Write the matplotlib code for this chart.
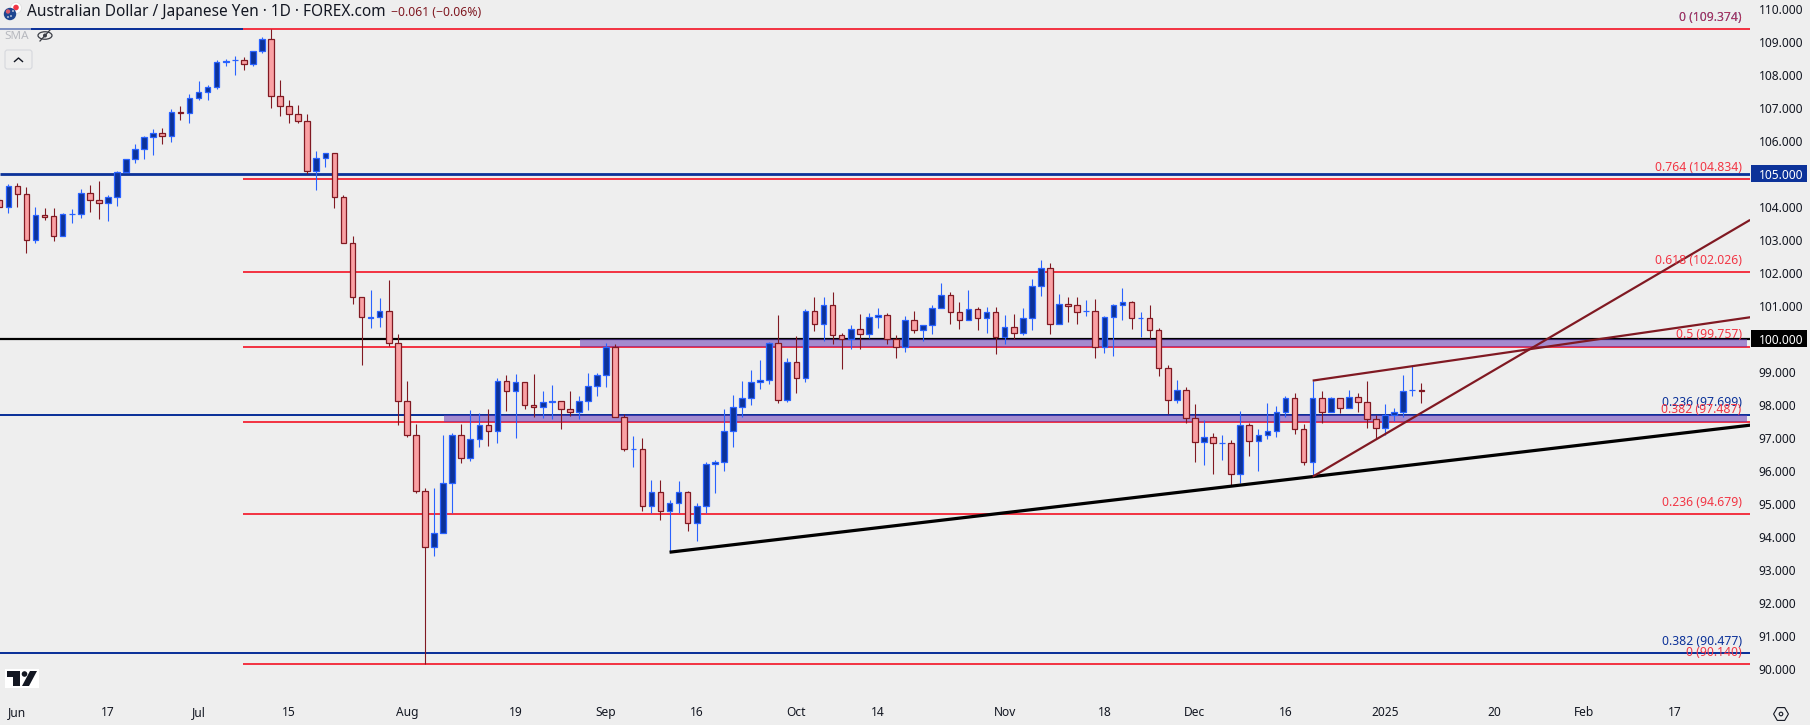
import matplotlib
matplotlib.use("Agg")
import matplotlib.pyplot as plt
from matplotlib.patches import Rectangle, Circle, Polygon, FancyBboxPatch, RegularPolygon, Ellipse
from matplotlib.lines import Line2D

# ---------- data ----------
opens = [104.19,103.98,104.62,104.37,102.98,103.74,103.71,103.10,103.77,103.77,104.40,104.19,104.10,104.28,105.04,105.46,105.74,106.10,106.22,106.13,
 106.86,106.83,107.28,107.49,107.62,108.37,108.45,108.46,108.31,108.71,109.07,107.34,107.04,106.80,106.59,105.07,105.49,105.62,104.28,102.89,
 101.25,100.64,100.65,100.83,99.86,98.10,97.07,95.37,93.68,94.10,95.62,97.07,96.37,96.95,97.37,97.19,98.71,98.43,98.68,97.98,
 97.92,98.09,98.10,97.86,97.77,98.10,98.56,98.89,99.74,97.62,96.65,96.67,94.92,95.34,94.77,95.01,95.34,94.40,94.92,96.19,
 96.26,97.19,97.92,98.19,98.68,98.74,99.86,98.13,99.28,98.80,100.83,100.46,101.01,100.10,99.98,100.28,100.13,100.65,100.71,100.00,
 99.74,100.56,100.25,100.43,100.92,101.31,100.80,100.56,100.89,100.62,100.80,100.04,100.34,100.16,100.62,101.59,102.13,100.46,101.04,101.01,
 100.83,100.83,99.74,100.65,101.01,101.10,100.62,100.62,100.25,99.10,98.13,98.46,97.59,96.86,97.01,96.83,96.83,95.89,97.37,96.89,
 97.07,97.19,97.77,98.19,97.25,96.25,98.19,97.77,98.19,97.89,98.24,98.07,97.56,97.28,97.70,97.77,98.45,98.46]
highs = [104.25,104.68,104.72,104.60,103.98,103.95,103.95,103.80,103.92,104.53,104.66,104.77,104.34,105.08,105.45,105.90,106.14,106.34,106.38,106.96,
 107.04,107.43,107.81,107.69,108.46,108.48,108.57,108.54,108.71,109.13,109.374,107.84,107.23,107.07,106.80,105.68,105.62,105.62,104.34,103.10,
 101.25,101.47,101.23,101.78,100.13,98.72,97.43,95.49,95.49,97.07,97.13,97.43,97.84,97.74,97.87,98.81,98.89,98.92,98.68,98.92,
 98.41,98.59,98.10,98.41,98.26,98.96,98.96,99.86,99.83,97.71,97.04,96.98,95.72,95.72,95.10,95.69,95.37,95.01,96.26,96.31,
 97.87,98.29,98.72,99.04,99.35,99.90,100.71,99.43,100.07,100.89,101.26,101.26,101.40,100.16,100.40,100.74,100.77,100.92,100.77,100.10,
 100.68,100.83,100.43,101.01,101.68,101.40,101.10,101.49,100.95,100.95,100.95,100.71,100.74,100.92,101.80,102.37,102.28,101.34,101.25,101.25,
 101.16,101.19,100.68,101.04,101.53,101.13,100.80,101.01,100.31,99.19,98.74,98.53,98.01,97.53,97.13,97.07,96.92,97.80,97.46,97.25,
 98.04,97.95,98.25,98.34,97.40,98.73,98.40,98.22,98.19,98.44,98.34,98.71,97.69,98.01,97.89,98.89,99.18,98.65]
lows = [103.98,103.82,104.00,102.61,102.91,103.60,102.97,103.10,103.52,103.67,103.84,103.64,103.58,104.02,105.04,105.33,105.45,105.58,105.90,105.96,
 106.63,106.55,107.23,107.23,107.57,108.27,108.00,108.15,108.27,108.67,107.00,106.76,106.55,106.55,104.98,104.52,105.21,103.97,102.89,101.06,
 99.21,100.32,100.36,99.79,97.39,97.03,95.33,90.14,93.42,94.10,94.71,96.24,96.30,96.73,96.76,96.85,97.82,97.00,97.88,97.64,
 97.61,97.58,97.27,97.66,97.58,97.84,98.26,98.54,97.62,96.61,96.12,94.79,94.71,94.52,93.58,94.71,94.18,93.88,94.71,95.33,
 96.00,96.73,97.64,97.99,98.48,98.64,98.04,98.09,98.36,98.70,100.24,99.92,99.85,99.09,99.70,99.70,100.01,100.33,99.85,99.42,
 99.61,100.18,99.94,100.15,100.92,100.45,100.30,100.56,100.27,100.18,99.55,99.85,99.98,100.12,100.27,101.30,100.15,100.46,100.52,100.45,
 100.70,99.42,99.58,99.48,100.58,100.30,100.06,99.98,98.88,97.71,98.06,97.46,96.27,96.18,95.91,96.33,95.56,95.62,96.45,96.00,
 96.97,97.03,97.62,97.12,96.18,95.82,97.45,97.77,97.76,97.89,97.79,97.30,96.95,97.07,97.52,97.62,98.27,98.06]
closes = [103.98,104.62,104.37,102.98,103.74,103.70,103.10,103.77,103.78,104.40,104.19,104.10,104.28,105.04,105.45,105.74,106.10,106.22,106.13,106.86,
 106.83,107.28,107.49,107.62,108.37,108.43,108.46,108.31,108.71,109.07,107.34,107.04,106.80,106.59,105.07,105.49,105.62,104.28,102.89,101.25,
 100.65,100.65,100.83,99.86,98.10,97.07,95.37,93.68,94.10,95.62,97.07,96.37,96.95,97.37,97.19,98.71,98.43,98.68,97.98,97.92,
 98.07,98.10,97.86,97.77,98.10,98.56,98.89,99.74,97.62,96.65,96.67,94.92,95.34,94.77,95.01,95.34,94.40,94.92,96.19,96.26,
 97.19,97.92,98.19,98.68,98.74,99.86,98.13,99.28,98.80,100.83,100.46,101.01,100.10,99.98,100.28,100.13,100.65,100.71,100.00,99.74,
 100.56,100.25,100.43,100.92,101.31,100.80,100.56,100.89,100.62,100.80,100.04,100.34,100.16,100.62,101.59,102.13,100.46,101.04,101.00,100.80,
 100.84,99.74,100.65,101.01,101.10,100.62,100.63,100.25,99.10,98.13,98.46,97.59,96.86,97.01,96.83,96.84,95.89,97.37,96.89,97.07,
 97.19,97.77,98.19,97.25,96.25,98.19,97.77,98.19,97.89,98.24,98.07,97.56,97.28,97.70,97.77,98.43,98.46,98.40]

red_levels = [109.374, 104.834, 102.026, 99.757, 97.487, 94.679, 90.140]
red_texts = ["0 (109.374)", "0.764 (104.834)", "0.618 (102.026)", "0.5 (99.757)", "0.382 (97.487)", "0.236 (94.679)", "0 (90.140)"]
blue_levels = [109.374, 105.0, 97.699, 90.477]
blue_texts = ["0 (109.374)", "", "0.236 (97.699)", "0.382 (90.477)"]
black_level = 100.0
zones = [(99.757, 100.0), (97.487, 97.699)]
zone_starts = [64.1, 49.1]
support_x, support_y = [74, 193.3], [93.53, 97.38]
wedge_low_x, wedge_low_y = [145, 193.3], [95.82, 103.60]
wedge_up_x, wedge_up_y = [145, 193.3], [98.73, 100.65]

price_ticks = list(range(90, 111))
x_ticks = [2, 12, 22, 32, 45, 57, 67, 77, 88, 97, 111, 122, 132, 142, 153, 165, 175, 185]
x_labels = ["Jun", "17", "Jul", "15", "Aug", "19", "Sep", "16", "Oct", "14", "Nov", "18", "Dec", "16", "2025", "20", "Feb", "17"]

# ---------- style ----------
W, H = 1810, 725
BG = "#eeeeee"
BLUE, BLUE_E = "#0c3299", "#2962ff"
RED_B, RED_E = "#faa1a4", "#801922"
FIB_RED = "#f23645"
TXT = "#131722"
FONT = "Noto Sans"
plt.rcParams["font.family"] = FONT

fig = plt.figure(figsize=(W/100, H/100), dpi=100, facecolor=BG)
AX_R, AX_B = 1750, 697
ax = fig.add_axes([0, 1-AX_B/H, AX_R/W, AX_B/H], facecolor=BG)
ax.set_xlim((0+0.75)/9.058, (AX_R+0.75)/9.058)
ax.set_ylim(100+(338.7-AX_B)/33.0, 100+338.7/33.0)
for s in ax.spines.values():
    s.set_visible(False)
ax.set_axisbelow(False)
ax.yaxis.tick_right()
ax.set_yticks(price_ticks)
ax.set_yticklabels([f"{p:.3f}" for p in price_ticks], fontsize=8.6, color=TXT)
ax.set_xticks(x_ticks)
ax.set_xticklabels(x_labels, fontsize=8.6, color=TXT)
ax.tick_params(axis="both", length=0)
ax.tick_params(axis="y", pad=6.2)
ax.tick_params(axis="x", pad=6.5)
for lb in ax.get_xticklabels():
    if lb.get_text() == "2025":
        lb.set_fontweight("bold")

px = 0.72  # points per pixel
right_x = ax.get_xlim()[1]
left_x = ax.get_xlim()[0]
red_start = 26.87

# levels
for lv in blue_levels:
    lw = 2.8 if lv == 105.0 else 2.0
    x1 = red_start if lv == 109.374 else right_x
    ax.plot([left_x, x1], [lv, lv], color=BLUE, lw=lw*px, zorder=3, solid_capstyle="butt")
ax.plot([left_x, right_x], [black_level]*2, color="black", lw=2.2*px, zorder=3, solid_capstyle="butt")
for lv in red_levels:
    ax.plot([red_start, right_x], [lv, lv], color=FIB_RED, lw=2.0*px, zorder=3, solid_capstyle="butt")

# zones
for (lo, hi), st in zip(zones, zone_starts):
    ax.add_patch(Rectangle((st, lo), 192.95-st, hi-lo, facecolor="#673ab7", alpha=0.55, lw=0, zorder=4))

# candles
bw = 5.6/9.058
for i, (o, h, l, c) in enumerate(zip(opens, highs, lows, closes)):
    up = c >= o
    edge, body = (BLUE_E, BLUE) if up else (RED_E, RED_B)
    ax.plot([i, i], [l, h], color=edge, lw=1.1*px, zorder=5, solid_capstyle="butt")
    top, bot = max(o, c), min(o, c)
    ax.add_patch(Rectangle((i-bw/2, bot), bw, top-bot, facecolor=body, edgecolor=edge, lw=1.25*px, zorder=6))

# trend lines
ax.plot(support_x, support_y, color="black", lw=3.2*px, zorder=7, solid_capstyle="butt")
ax.plot(wedge_low_x, wedge_low_y, color=RED_E, lw=2.2*px, zorder=7, solid_capstyle="butt")
ax.plot(wedge_up_x, wedge_up_y, color=RED_E, lw=2.2*px, zorder=7, solid_capstyle="butt")

# level labels
def lab(text, lv, col, alpha=1.0):
    ax.annotate(text, xy=(1, lv), xycoords=("axes fraction", "data"),
                xytext=(-8.3*px, 11.8*px), textcoords="offset points",
                ha="right", va="center", fontsize=8.8, color=col, alpha=alpha, zorder=8)
for t, lv in zip(blue_texts, blue_levels):
    if t:
        lab(t, lv, BLUE)
for t, lv in zip(red_texts, red_levels):
    lab(t, lv, FIB_RED, 0.72 if lv == 109.374 else 1.0)

# price boxes on the axis
tr = ax.get_yaxis_transform()
for lv, col in [(105.0, BLUE), (100.0, "black")]:
    ax.add_patch(Rectangle((1751/AX_R, lv-8.3/33), 56/AX_R, 16.6/33, transform=tr, facecolor=col,
                           edgecolor="none", clip_on=False, zorder=2))
for lb in ax.get_yticklabels():
    if lb.get_text() in ("105.000", "100.000"):
        lb.set_color("white")
        lb.set_fontweight("bold")

# ---------- overlay in pixel coordinates ----------
ov = fig.add_axes([0, 0, 1, 1], facecolor="none")
ov.set_xlim(0, W); ov.set_ylim(H, 0); ov.axis("off")

ov.text(27, 12, "Australian Dollar / Japanese Yen · 1D · FOREX.com", fontsize=11.1, color=TXT, va="center", ha="left")
ov.text(391, 12, "−0.061 (−0.06%)", fontsize=8.8, color=RED_E, va="center", ha="left")

# flags
ov.add_patch(Circle((16, 8), 5.5, facecolor="white", edgecolor="#dddddd", lw=0.5))
ov.add_patch(Circle((16, 7.5), 2.8, facecolor="#f23645", edgecolor="none"))
ov.add_patch(Circle((10, 14), 6.2, facecolor="#1f4690", edgecolor="none"))
ov.add_patch(Circle((8, 11.5), 2.2, facecolor="#d85a6a", edgecolor="none"))
for a, b in [(11, 16), (13, 11), (8, 17)]:
    ov.add_patch(Circle((a, b), 0.8, facecolor="white", edgecolor="none"))

# legend fade + SMA
ov.add_patch(Rectangle((0, 27), 31, 6, facecolor=BG, alpha=0.5, edgecolor="none"))
ov.text(4, 36, "SMA", fontsize=8.4, color="#b7b9bf", va="center", ha="left")
ov.add_patch(Ellipse((45, 35.5), 14, 7.5, facecolor="none", edgecolor="#3a3d45", lw=0.9))
ov.add_patch(Circle((45, 35.5), 2, facecolor="#3a3d45", edgecolor="none"))
ov.add_line(Line2D([40, 50], [41, 30], color="#3a3d45", lw=0.9))

# collapse button
ov.add_patch(FancyBboxPatch((5, 50), 27, 19, boxstyle="round,pad=0,rounding_size=2.5",
                            facecolor=BG, edgecolor="#d6d8dd", lw=0.8))
ov.add_line(Line2D([14.5, 18.5, 22.5], [61.5, 58, 61.5], color=TXT, lw=1.0))

# TradingView logo
ov.add_patch(Rectangle((5, 669), 34, 19, facecolor="white", edgecolor="none"))
ov.add_patch(Polygon([(7, 671), (20, 671), (20, 686), (13, 686), (13, 677), (7, 677)], facecolor="#131722", edgecolor="none"))
ov.add_patch(Circle((24.5, 674), 2.8, facecolor="#131722", edgecolor="none"))
ov.add_patch(Polygon([(30, 671), (37, 671), (29, 686), (22, 686)], facecolor="#131722", edgecolor="none"))

# settings icon
ov.add_patch(RegularPolygon((1781, 714), 6, radius=7.4, orientation=3.14159/6, facecolor="none", edgecolor=TXT, lw=0.8))
ov.add_patch(Circle((1781, 714), 1.8, facecolor="none", edgecolor=TXT, lw=0.8))

fig.savefig("out.png", dpi=100, facecolor=BG)
